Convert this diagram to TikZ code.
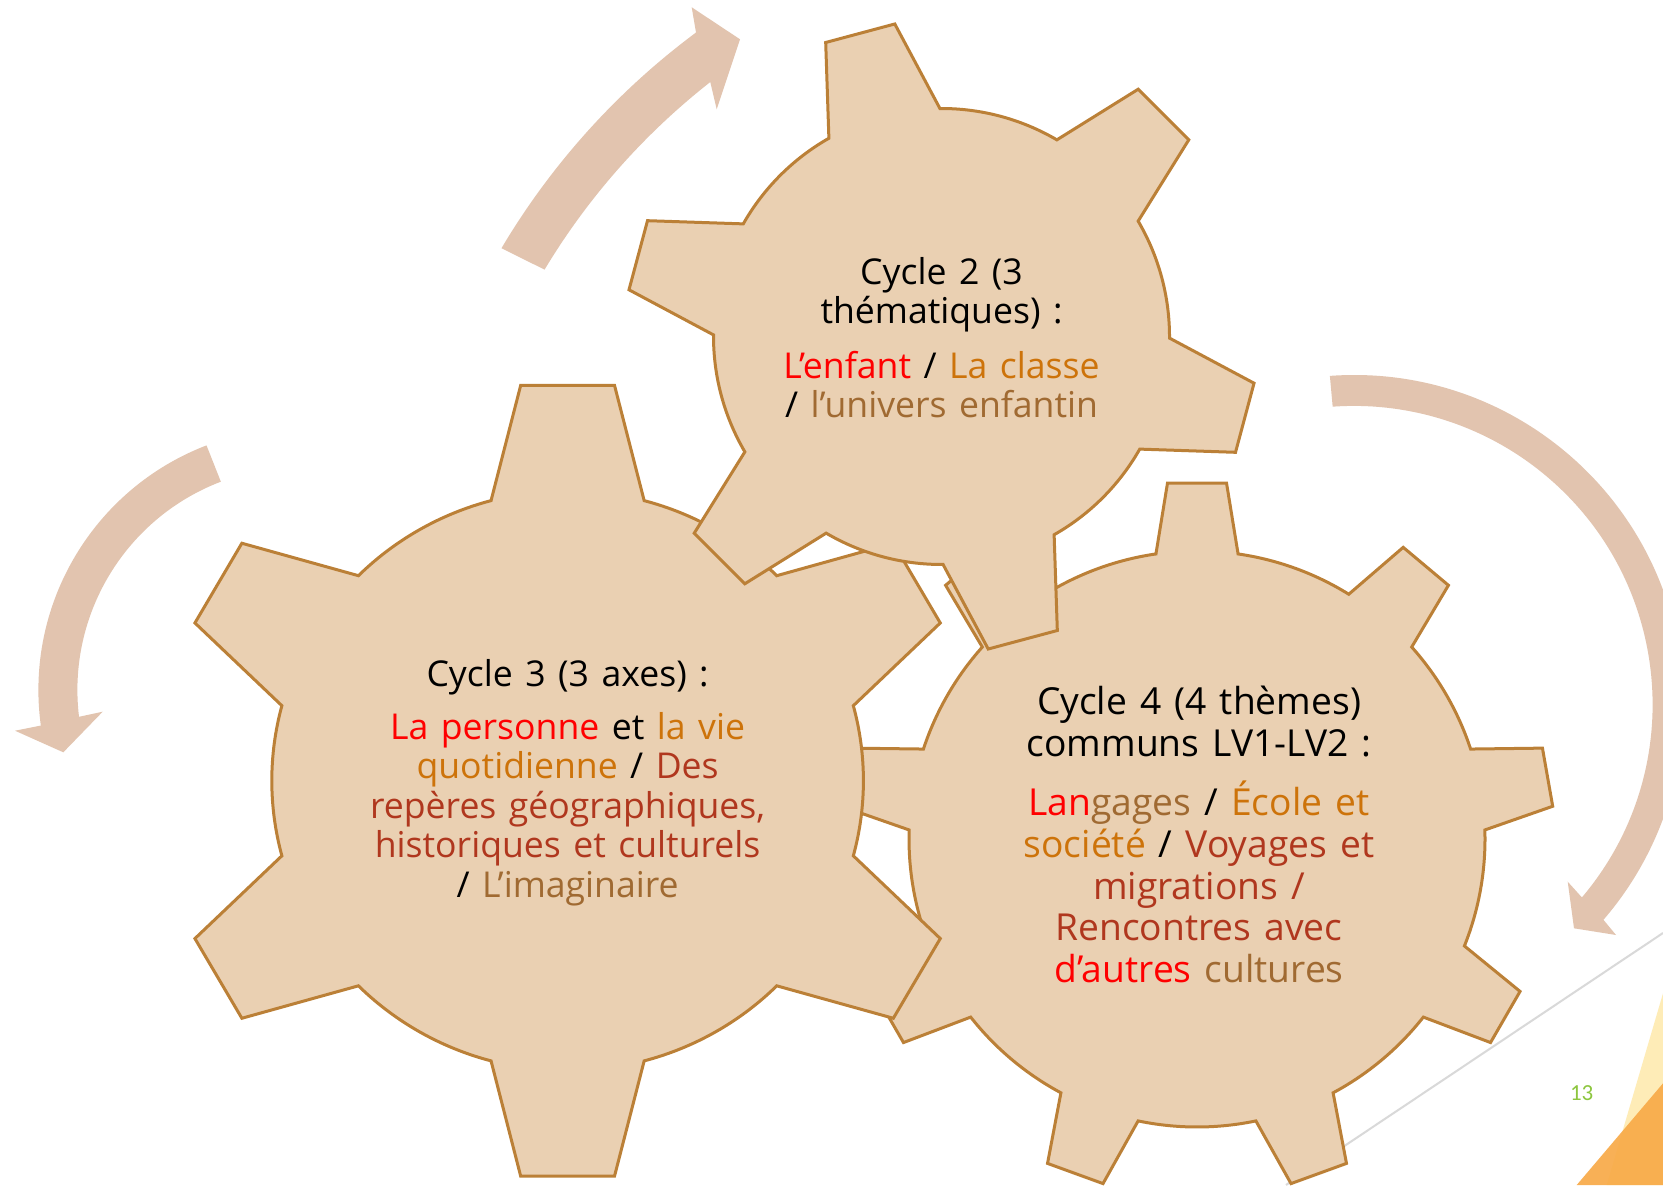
\documentclass[tikz,border=0pt]{standalone}
\usepackage{fontspec}
\setmainfont{Open Sans}[WordSpace=1.35]
\newfontfamily\pagefont{Carlito}
\usetikzlibrary{calc}
\definecolor{gearfill}{RGB}{234,208,178}
\definecolor{gearline}{RGB}{187,128,55}
\definecolor{arrowc}{RGB}{226,196,175}
\definecolor{tred}{RGB}{255,0,0}
\definecolor{torange}{RGB}{205,115,10}
\definecolor{tdred}{RGB}{176,55,30}
\definecolor{tbrown}{RGB}{160,106,50}
\definecolor{decoline}{RGB}{217,217,217}
\definecolor{decoyellow}{RGB}{254,236,183}
\definecolor{decoorange}{RGB}{248,170,72}
\definecolor{pagegreen}{RGB}{141,198,63}
% #1 teeth, #2 first tooth angle, #3 body radius, #4 tip radius, #5 base half-angle, #6 tip half-angle
\newcommand\gearpath[6]{%
  ({#2-#5}:#3)
  \foreach \k in {1,...,#1}{
    -- ({#2+(\k-1)*360/#1-#6}:#4) -- ({#2+(\k-1)*360/#1+#6}:#4) -- ({#2+(\k-1)*360/#1+#5}:#3)
    arc[start angle={#2+(\k-1)*360/#1+#5}, end angle={#2+\k*360/#1-#5}, radius=#3]
  } -- cycle}
\tikzset{
  gearshape/.style={fill=gearfill, draw=gearline, line width=1.5pt, line join=miter},
  cyclearrow/.style={fill=arrowc},
  geartext/.style={align=center, inner sep=0pt, font=\fontsize{17.8}{19.75}\selectfont},
  geartextbig/.style={align=center, inner sep=0pt, font=\fontsize{18.6}{20.9}\selectfont},
}
\begin{document}
\begin{tikzpicture}[x=0.5pt, y=0.5pt]
\clip (0,0) rectangle (1663,1185);
\fill[white] (0,0) rectangle (1663,1185);

% background decoration
\draw[decoline, line width=1pt] (1286,0) -- (1663,252);
\fill[decoyellow] (1606.7,0) -- (1663,191.7) -- (1663,0) -- cycle;
\fill[decoorange, opacity=0.92] (1576.7,0) -- (1663,101.7) -- (1663,0) -- cycle;
\node[text=pagegreen, font=\pagefont\fontsize{11.5}{13}\selectfont, inner sep=0pt] (pagenum) at (1581.7,91.7) {13};

% circular arrows
\coordinate (A1) at (1136,560);
\coordinate (A2) at (1354,480.5);
\coordinate (A3) at (300.4,495);
\fill[cyclearrow] ($(A1)+(149.3:738)$) arc[start angle=149.3, end angle=126.6, radius=738]
  -- (691.7,1177.7) -- (740,1145.7) -- (716.7,1075.7)
  -- ($(A1)+(128.1:690)$) arc[start angle=128.1, end angle=149.0, radius=690] -- cycle;
\fill[cyclearrow] ($(A2)+(94.2:329.5)$) arc[start angle=94.2, end angle=-40.8, radius=329.5]
  -- (1616,250) -- (1574,256.7) -- (1567.7,303.3)
  -- ($(A2)+(-40.25:298.6)$) arc[start angle=-40.25, end angle=94.1, radius=298.6] -- cycle;
\fill[cyclearrow] ($(A3)+(111:262)$) arc[start angle=111, end angle=187.8, radius=262]
  -- (15,454.3) -- (63.3,432.7) -- (102.7,473.3)
  -- ($(A3)+(186.9:223)$) arc[start angle=186.9, end angle=110.9, radius=223] -- cycle;

% gears: cycle 4 (back), cycle 3, cycle 2 (front)
\begin{scope}[shift={(1197,346)}]
  \draw[gearshape] \gearpath{9}{90}{288}{357.2}{8.2}{4.74};
\end{scope}
\begin{scope}[shift={(567.6,404.25)}, xscale=1.02]
  \draw[gearshape] \gearpath{6}{90}{290}{398}{15}{6.64};
\end{scope}
\begin{scope}[shift={(941.5,848.5)}]
  \draw[gearshape] \gearpath{6}{105}{228}{316}{14.6}{6.5};
\end{scope}

% texts
\node[geartext] (c2) at (941.5,847.3) {Cycle 2 (3\\thématiques) :\\[7.4pt]
  \textcolor{tred}{L’enfant} / \textcolor{torange}{La classe}\\
  / \textcolor{tbrown}{l’univers enfantin}};
\node[geartext] (c3) at (567.6,402.2) {Cycle 3 (3 axes) :\\[6.5pt]
  \textcolor{tred}{La personne} et \textcolor{torange}{la vie}\\
  \textcolor{torange}{quotidienne} / \textcolor{tdred}{Des}\\
  \textcolor{tdred}{repères géographiques,}\\
  \textcolor{tdred}{historiques et culturels}\\
  / \textcolor{tbrown}{L’imaginaire}};
\node[geartextbig] (c4) at (1199,350.6) {Cycle 4 (4 thèmes)\\communs LV1-LV2 :\\[8.8pt]
  \textcolor{tred}{Lan}\textcolor{tbrown}{gages} / \textcolor{torange}{École et}\\
  \textcolor{torange}{société} / \textcolor{tdred}{Voyages et}\\
  \textcolor{tdred}{migrations /}\\
  \textcolor{tdred}{Rencontres avec}\\
  \textcolor{tred}{d’autres} \textcolor{tbrown}{cultures}};
\end{tikzpicture}
\end{document}
